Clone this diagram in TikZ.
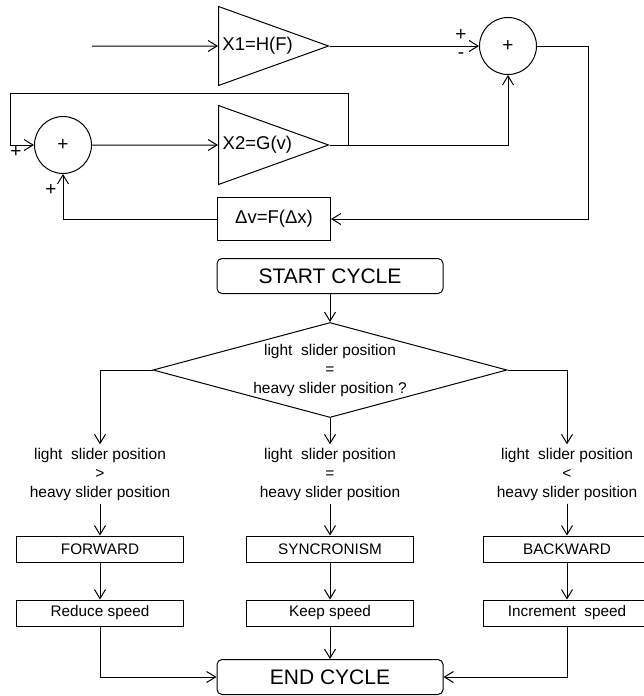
\documentclass[tikz,border=0pt]{standalone}
\usepackage{fontspec}
\setmainfont{Liberation Sans}
\usetikzlibrary{arrows.meta,shapes.geometric}
\newcommand{\amptxt}{\fontsize{18.5}{20}\selectfont}
\newcommand{\termtxt}{\fontsize{21}{24}\selectfont}
\newcommand{\condtxt}{\fontsize{15.5}{19}\selectfont}
\newcommand{\boxtxt}{\fontsize{15.3}{18}\selectfont}
\newcommand{\signtxt}{\fontsize{19}{20}\selectfont}

\begin{document}
\begin{tikzpicture}[x=1pt, y=-1pt, line width=1pt, >={Straight Barb[length=9pt,width=11pt]},
   amp/.style={draw, isosceles triangle, isosceles triangle stretches, minimum width=79pt, minimum height=110pt, inner sep=0pt, font=\amptxt},
   sum/.style={draw, circle, minimum size=57pt, inner sep=0pt, font=\signtxt},
   sign/.style={inner sep=0pt, font=\signtxt},
   block/.style={draw, minimum width=167pt, minimum height=26pt, inner sep=0pt, font=\boxtxt},
   term/.style={draw, rounded corners=5pt, minimum width=226pt, minimum height=35pt, inner sep=0pt, font=\termtxt},
   decision/.style={draw, diamond, aspect=3.7, minimum width=354pt, minimum height=95pt, inner sep=0pt, align=center, font=\condtxt},
   cond/.style={inner sep=3pt, align=center, font=\condtxt}]
      \useasboundingbox (0,0) rectangle (644,696);
      \coordinate (input) at (92,46);
      \node [amp, anchor=lower side] (amp1) at (218,46) {X1=H(F)};
      \node [sum] (sum1) at (508,46) {+};
      \node [sign] (p1) at (461,35) {+};
      \node [sign] (m1) at (461,56) {-};
      \node [sum] (sum2) at (63,145) {+};
      \node [sign] (p2) at (16,152) {+};
      \node [sign] (p3) at (51,190) {+};
      \node [amp, anchor=lower side] (amp2) at (218,145) {X2=G(v)};
      \node [draw, minimum width=113pt, minimum height=43pt, inner sep=0pt, font=\amptxt] (dv) at (274,219) {Δv=F(Δx)};
      \coordinate (tap) at (348,145);
      \coordinate (back) at (10,93);
      \draw [->] (input) -- (amp1);
      \draw [->] (amp1.apex) -- (sum1);
      \draw [->] (sum1.east) -- ++(51,0) |- (dv.east);
      \draw [->] (dv.west) -| (sum2.south);
      \draw [->] (sum2.east) -- (amp2);
      \draw [->] (amp2.apex) -| (sum1.south);
      \draw [->] (tap) |- (back) |- (sum2.west);
      \node [term] (start) at (330,276) {START CYCLE};
      \node [decision] (test) at (330,370) {light\ \ slider position\\=\\heavy slider position ?};
      \node [cond] (gt) at (100,474) {light\ \ slider position\\>\\heavy slider position};
      \node [cond] (eq) at (330,474) {light\ \ slider position\\=\\heavy slider position};
      \node [cond] (lt) at (567,474) {light\ \ slider position\\<\\heavy slider position};
      \node [block] (fwd) at (100,549) {FORWARD};
      \node [block] (sync) at (330,549) {SYNCRONISM};
      \node [block] (bwd) at (567,549) {BACKWARD};
      \node [block] (rdc) at (100,613) {Reduce speed};
      \node [block] (keep) at (330,613) {Keep speed};
      \node [block] (inc) at (567,613) {Increment\ \ speed};
      \node [term] (stop) at (330,677) {END CYCLE};
      \draw [->] (start) -- (test);
      \draw [->] (test.west) -| (gt.north);
      \draw [->] (test.south) -- (eq.north);
      \draw [->] (test.east) -| (lt.north);
      \foreach \a/\b in {gt/fwd, eq/sync, lt/bwd, fwd/rdc, sync/keep, bwd/inc}
         \draw [->] (\a) -- (\b);
      \draw [->] (rdc) |- (stop);
      \draw [->] (keep) -- (stop);
      \draw [->] (inc) |- (stop);
   \end{tikzpicture}
\end{document}
